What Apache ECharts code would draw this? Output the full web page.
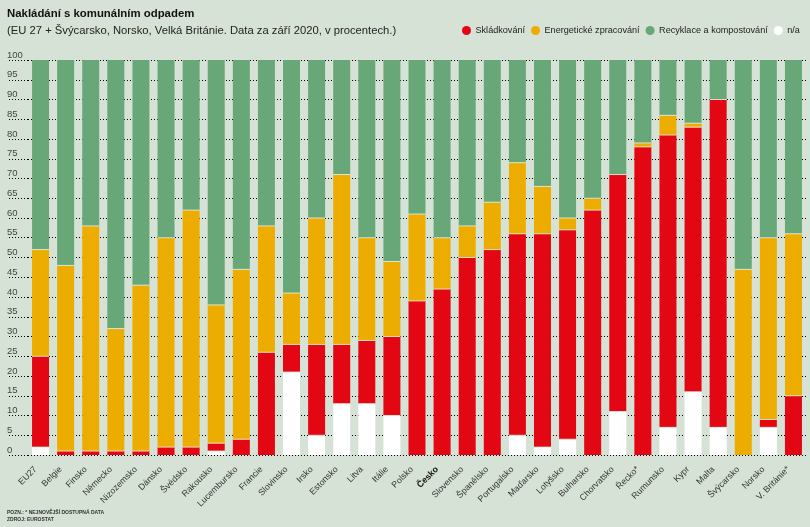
<!DOCTYPE html>
<html><head><meta charset="utf-8">
<style>html,body{margin:0;padding:0;background:#d7e2d6}#c{width:810px;height:527px}</style>
<script src="https://cdn.jsdelivr.net/npm/echarts@6/dist/echarts.min.js"></script>
</head><body><div id="c"></div>
<script>
const categories = ['EU27','Belgie','Finsko','Německo','Nizozemsko','Dánsko','Švédsko','Rakousko','Lucembursko','Francie','Slovinsko','Irsko','Estonsko','Litva','Itálie','Polsko','Česko','Slovensko','Španělsko','Portugalsko','Maďarsko','Lotyšsko','Bulharsko','Chorvatsko','Řecko*','Rumunsko','Kypr','Malta','Švýcarsko','Norsko','V. Británie*'];
const na       = [2,0,0,0,0,0,0,1,0,0,21,5,13,13,10,0,0,0,0,5,2,4,0,11,0,7,16,7,0,7,0];
const landfill = [23,1,1,1,1,2,2,2,4,26,7,23,15,16,20,39,42,50,52,51,54,53,62,60,78,74,67,83,0,2,15];
const energy   = [27,47,57,31,42,53,60,35,43,32,13,32,43,26,19,22,13,8,12,18,12,3,3,0,1,5,1,0,47,46,41];
const recycled = [48,52,42,68,57,45,38,62,53,42,59,40,29,45,51,39,45,42,36,26,32,40,35,29,21,14,16,10,53,45,44];
const yTicks = [0,5,10,15,20,25,30,35,40,45,50,55,60,65,70,75,80,85,90,95,100];
const names = ['Skládkování','Energetické zpracování','Recyklace a kompostování','n/a'];
const colors = {red:'#e30613',orange:'#edac00',green:'#68a878',white:'#ffffff'};
const font = '"Liberation Sans", Arial, sans-serif';

const layers = [na, landfill, energy, recycled];
const seps = [];
categories.forEach((c,i)=>{
  let sum = 0;
  layers.forEach((l,k)=>{
    sum += l[i];
    if (l[i] > 0 && k < layers.length-1 && layers.slice(k+1).some(u=>u[i]>0)) seps.push([c,sum]);
  });
});
const bar = (name,data,color)=>({name,type:'bar',stack:'t',data,barWidth:17,itemStyle:{color},z:2,silent:true});

const chart = echarts.init(document.getElementById('c'),null,{renderer:'canvas'});
chart.setOption({
  animation:false,
  backgroundColor:'#d7e2d6',
  textStyle:{fontFamily:font},
  title:[
    {text:'Nakládání s komunálním odpadem',left:7,top:8,textStyle:{fontFamily:font,fontSize:11.4,fontWeight:'bold',color:'#111'},padding:0},
    {text:'(EU 27 + Švýcarsko, Norsko, Velká Británie. Data za září 2020, v procentech.)',left:7,top:25,textStyle:{fontFamily:font,fontSize:11.26,fontWeight:'normal',color:'#222'},padding:0},
    {text:'POZN.: * NEJNOVĚJŠÍ DOSTUPNÁ DATA\nZDROJ: EUROSTAT',left:7,top:509,textStyle:{fontFamily:font,fontSize:5,fontWeight:'bold',color:'#333',lineHeight:7},padding:0}
  ],
  legend:{
    data:names.map(n=>({name:n})),
    left:462,top:26,padding:0,icon:'circle',itemWidth:10,itemHeight:9,itemGap:6,
    textStyle:{fontFamily:font,fontSize:9.1,color:'#222',padding:[0,0,0,-1]},
    selectedMode:false
  },
  grid:{left:28,right:4,top:60,bottom:72,containLabel:false},
  xAxis:{
    type:'category',
    data:categories.map(c=>c==='Česko'?{value:c,textStyle:{fontWeight:'bold',color:'#111'}}:c),
    axisLine:{show:false},axisTick:{show:false},
    axisLabel:{rotate:45,interval:0,fontFamily:font,fontSize:8.8,color:'#333',margin:8,padding:[0,7,0,0]}
  },
  yAxis:{
    type:'value',min:0,max:100,interval:5,
    axisLine:{show:false},
    axisTick:{show:true,inside:false,length:21,lineStyle:{color:'#000',width:1,type:[1,2]}},
    axisLabel:{
      margin:21,align:'left',verticalAlign:'bottom',
      fontFamily:font,fontSize:9.5,color:'#444',lineHeight:10,
      formatter:v=>yTicks.includes(v)?String(v):''
    },
    splitLine:{show:true,lineStyle:{color:'#000',width:1,type:[1,2]}}
  },
  series:[
    bar('n/a',na,colors.white),
    bar('Skládkování',landfill,colors.red),
    bar('Energetické zpracování',energy,colors.orange),
    bar('Recyklace a kompostování',recycled,colors.green),
    {name:'hranice',type:'scatter',data:seps,symbol:'rect',symbolSize:[17,1],z:3,silent:true,
     itemStyle:{color:'#eef3e8'},tooltip:{show:false}}
  ]
});
</script></body></html>
